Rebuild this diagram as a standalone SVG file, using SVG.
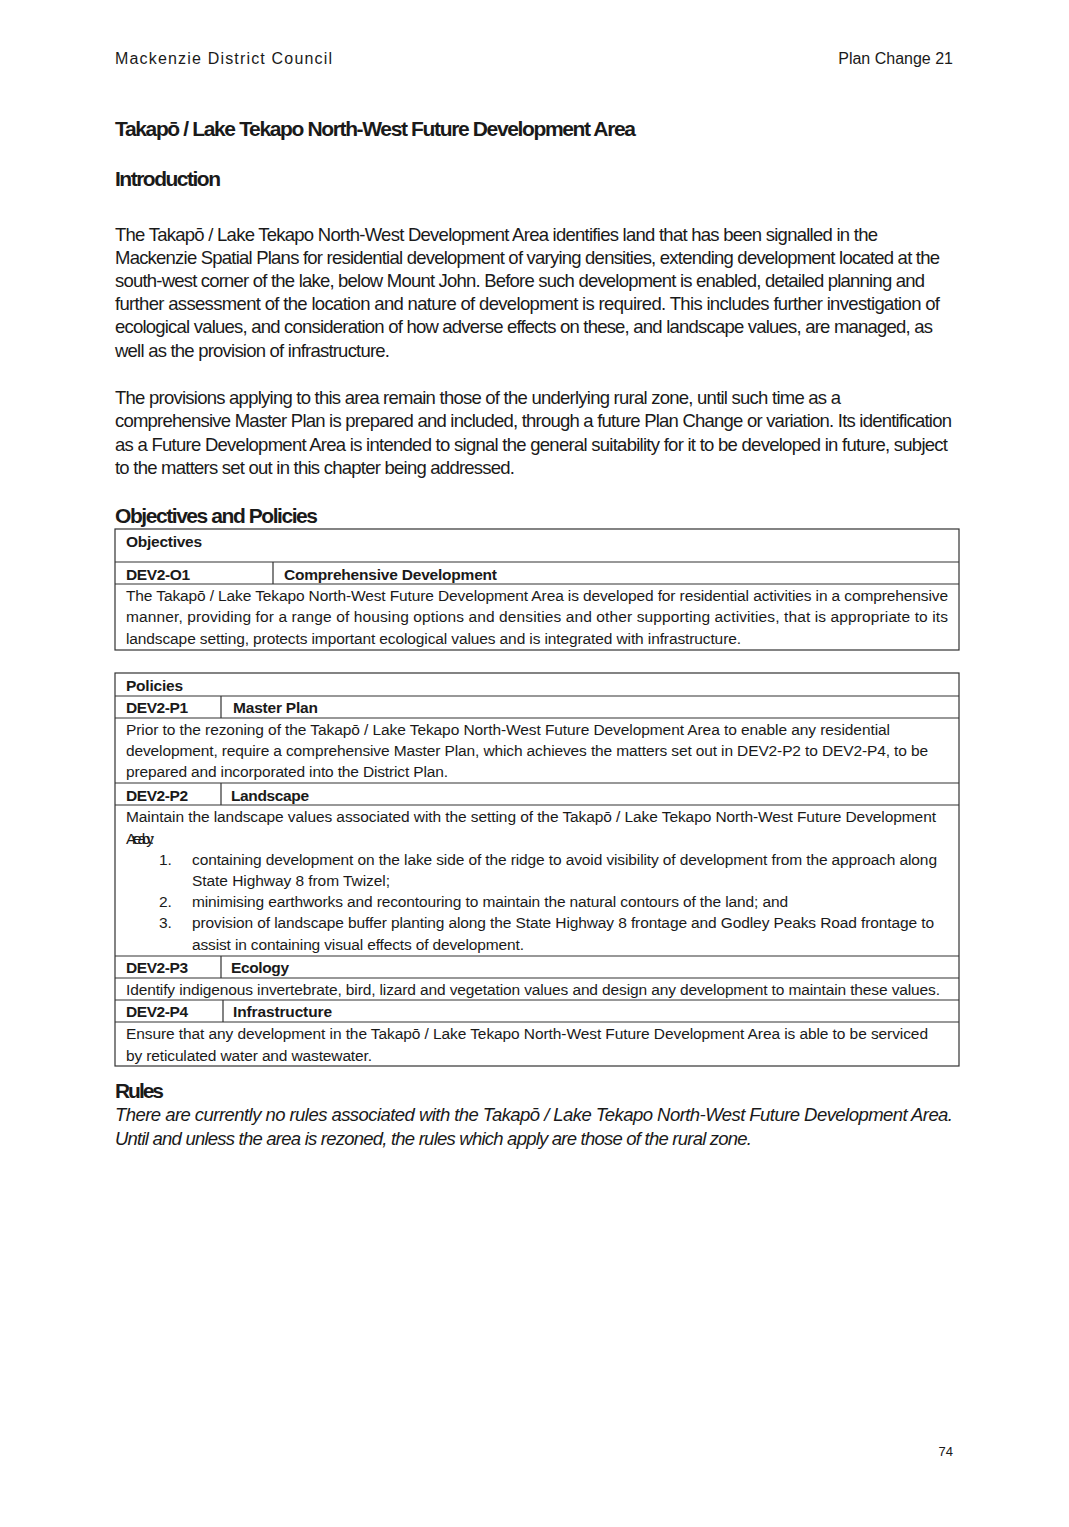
<svg xmlns="http://www.w3.org/2000/svg" width="1069" height="1527" viewBox="0 0 1069 1527">
<style>
text{font-family:"Liberation Sans Narrow","Liberation Sans",Arial,sans-serif;fill:#1a1a1a}
.hd{font-family:"Liberation Sans",Arial,sans-serif;font-size:16px}
.h{font-size:21px;font-weight:bold}
.p{font-size:18.5px}
.t{font-size:15.5px}
.tb{font-size:15.5px;font-weight:bold}
.i{font-size:18.5px;font-style:italic}
.ln{stroke:#333;stroke-width:1.2;fill:none}
</style>
<rect width="1069" height="1527" fill="#fff"/>
<text class="hd" x="115" y="64" textLength="217">Mackenzie District Council</text>
<text class="hd" x="953" y="64" text-anchor="end">Plan Change 21</text>
<text class="h" x="115" y="136" textLength="521">Takapō / Lake Tekapo North-West Future Development Area</text>
<text class="h" x="115" y="186" textLength="106">Introduction</text>
<g class="p">
<text x="115" y="241" textLength="763">The Takapō / Lake Tekapo North-West Development Area identifies land that has been signalled in the</text>
<text x="115" y="264" textLength="825">Mackenzie Spatial Plans for residential development of varying densities, extending development located at the</text>
<text x="115" y="287" textLength="810">south-west corner of the lake, below Mount John. Before such development is enabled, detailed planning and</text>
<text x="115" y="310" textLength="825">further assessment of the location and nature of development is required. This includes further investigation of</text>
<text x="115" y="333" textLength="818">ecological values, and consideration of how adverse effects on these, and landscape values, are managed, as</text>
<text x="115" y="357" textLength="275">well as the provision of infrastructure.</text>
<text x="115" y="404" textLength="726">The provisions applying to this area remain those of the underlying rural zone, until such time as a</text>
<text x="115" y="427" textLength="837">comprehensive Master Plan is prepared and included, through a future Plan Change or variation. Its identification</text>
<text x="115" y="451" textLength="833">as a Future Development Area is intended to signal the general suitability for it to be developed in future, subject</text>
<text x="115" y="474" textLength="400">to the matters set out in this chapter being addressed.</text>
</g>
<text class="h" x="115" y="523" textLength="203">Objectives and Policies</text>
<g id="objectives">
<rect class="ln" x="115" y="529" width="844" height="121"/>
<path class="ln" d="M115 562H959M115 584H959M273 562V584"/>
<text class="tb" x="126" y="547" textLength="76">Objectives</text>
<text class="tb" x="126" y="580" textLength="64">DEV2-O1</text>
<text class="tb" x="284" y="580" textLength="213">Comprehensive Development</text>
<text class="t" x="126" y="601" textLength="822">The Takapō / Lake Tekapo North-West Future Development Area is developed for residential activities in a comprehensive</text>
<text class="t" x="126" y="622" textLength="822">manner, providing for a range of housing options and densities and other supporting activities, that is appropriate to its</text>
<text class="t" x="126" y="644" textLength="615">landscape setting, protects important ecological values and is integrated with infrastructure.</text>
</g>
<g id="policies">
<rect class="ln" x="115" y="673" width="844" height="393"/>
<path class="ln" d="M115 696H959M115 718H959M221 696V718M115 783H959M115 805H959M221 783V805M115 956H959M115 978H959M221 956V978M115 1000H959M115 1022H959M223 1000V1022"/>
<text class="tb" x="126" y="691" textLength="57">Policies</text>
<text class="tb" x="126" y="713" textLength="62">DEV2-P1</text>
<text class="tb" x="233" y="713" textLength="85">Master Plan</text>
<text class="t" x="126" y="735" textLength="764">Prior to the rezoning of the Takapō / Lake Tekapo North-West Future Development Area to enable any residential</text>
<text class="t" x="126" y="756" textLength="802">development, require a comprehensive Master Plan, which achieves the matters set out in DEV2-P2 to DEV2-P4, to be</text>
<text class="t" x="126" y="777" textLength="322">prepared and incorporated into the District Plan.</text>
<text class="tb" x="126" y="801" textLength="62">DEV2-P2</text>
<text class="tb" x="231" y="801" textLength="78">Landscape</text>
<text class="t" x="126" y="822" textLength="810">Maintain the landscape values associated with the setting of the Takapō / Lake Tekapo North-West Future Development</text>
<text class="t" x="126" y="844" textLength="28">Area by:</text>
<text class="t" x="159" y="865">1.</text>
<text class="t" x="192" y="865" textLength="745">containing development on the lake side of the ridge to avoid visibility of development from the approach along</text>
<text class="t" x="192" y="886" textLength="198">State Highway 8 from Twizel;</text>
<text class="t" x="159" y="907">2.</text>
<text class="t" x="192" y="907" textLength="596">minimising earthworks and recontouring to maintain the natural contours of the land; and</text>
<text class="t" x="159" y="928">3.</text>
<text class="t" x="192" y="928" textLength="742">provision of landscape buffer planting along the State Highway 8 frontage and Godley Peaks Road frontage to</text>
<text class="t" x="192" y="950" textLength="332">assist in containing visual effects of development.</text>
<text class="tb" x="126" y="973" textLength="62">DEV2-P3</text>
<text class="tb" x="231" y="973" textLength="58">Ecology</text>
<text class="t" x="126" y="995" textLength="814">Identify indigenous invertebrate, bird, lizard and vegetation values and design any development to maintain these values.</text>
<text class="tb" x="126" y="1017" textLength="62">DEV2-P4</text>
<text class="tb" x="233" y="1017" textLength="99">Infrastructure</text>
<text class="t" x="126" y="1039" textLength="802">Ensure that any development in the Takapō / Lake Tekapo North-West Future Development Area is able to be serviced</text>
<text class="t" x="126" y="1061" textLength="246">by reticulated water and wastewater.</text>
</g>
<text class="h" x="115" y="1098" textLength="49">Rules</text>
<text class="i" x="115" y="1121" textLength="838">There are currently no rules associated with the Takapō / Lake Tekapo North-West Future Development Area.</text>
<text class="i" x="115" y="1145" textLength="637">Until and unless the area is rezoned, the rules which apply are those of the rural zone.</text>
<text class="hd" x="953" y="1456" text-anchor="end" style="font-size:13px">74</text>
</svg>
